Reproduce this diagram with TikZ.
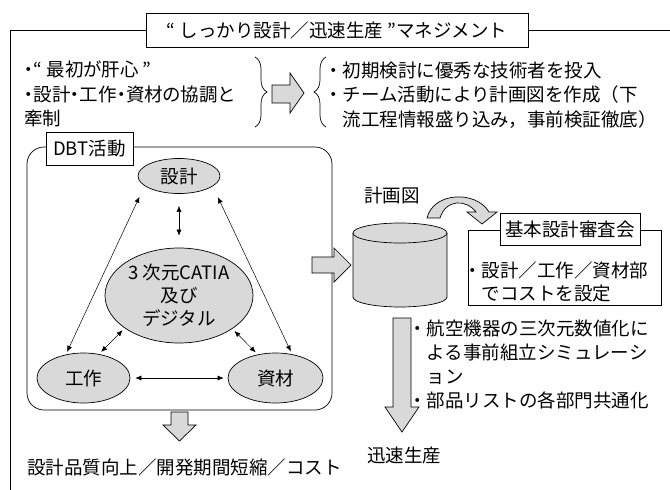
\documentclass[tikz,border=0pt]{standalone}
\usepackage{fontspec}
\newfontfamily\jp{Noto Sans CJK JP}
\newfontfamily\jpp[RawFeature=+palt]{Noto Sans CJK JP}
\usetikzlibrary{arrows.meta, shapes.geometric, decorations.pathreplacing}

\begin{document}
\begin{tikzpicture}[x=1pt,y=-1pt, line width=0.7pt,
  every node/.style={font=\jp\fontsize{18.5}{24.5}\selectfont, inner sep=0pt},
  blk/.style={draw, fill=black!15},
  oval/.style={ellipse, draw, fill=black!15},
  lbl/.style={draw, fill=white},
  txt/.style={align=left, anchor=west},
  dbl/.style={{Latex[length=6pt,width=5pt]}-{Latex[length=6pt,width=5pt]}, line width=0.5pt},
  brc/.style={decorate, decoration={brace, amplitude=12pt}}]
\useasboundingbox (0,0) rectangle (670,490);
% Title and frame
\node[lbl, minimum width=382pt, minimum height=34pt] (title) at (337,30)
  {“ しっかり設計／迅速生産 ”マネジメント};
\draw[line width=1pt] (title.west) -| (10,490);
\draw[line width=1pt] (title.east) -- (670,30);
% Top row
\node[txt, font=\jpp\fontsize{18.5}{24.5}\selectfont] (rule) at (24,94)
  {・“ 最初が肝心 ”\\・設計・工作・資材の協調と\\牽制};
\draw[brc] (255,57) -- (255,127);
\draw[blk] (272,85) -- (290,85) -- (290,73) -- (304,93) -- (290,113) -- (290,103) -- (272,103) -- cycle;
\draw[brc] (326,127) -- (326,57);
\node[txt] (plan) at (324,95) {・初期検討に優秀な技術者を投入\\・チーム活動により計画図を作成（下\\　流工程情報盛り込み，事前検証徹底）};
% DBT activity
\draw[rounded corners=17pt] (27,147) rectangle (332,410);
\node[lbl, minimum width=87pt, minimum height=33pt] (dbt) at (89.5,148.5) {DBT活動};
\node[oval, minimum width=82pt, minimum height=35pt] (sekkei) at (179,176) {設計};
\node[oval, minimum width=148pt, minimum height=95pt, align=center,
      font=\jp\fontsize{18.5}{23}\selectfont] (catia) at (179,295.5) {3 次元CATIA\\及び\\デジタル};
\node[oval, minimum width=93pt, minimum height=50pt] (kousaku) at (83.5,378) {工作};
\node[oval, minimum width=95pt, minimum height=50pt] (shizai) at (275.5,378) {資材};
\draw[dbl, shorten <=12pt, shorten >=12pt] (sekkei) -- (catia);
\draw[dbl, shorten <=3pt, shorten >=12pt] (kousaku.127) -- (sekkei.196);
\draw[dbl, shorten <=3pt, shorten >=12pt] (shizai.55) -- (sekkei.343);
\draw[dbl, shorten <=3pt, shorten >=3pt] (catia.211) -- (kousaku.57);
\draw[dbl, shorten <=3pt, shorten >=3pt] (catia.328) -- (shizai.127);
\draw[dbl, shorten <=5pt, shorten >=4pt] (kousaku) -- (shizai);
% Results
\draw[blk] (171,412) -- (188,412) -- (188,425) -- (196,425) -- (179.5,441) -- (163,425) -- (171,425) -- cycle;
\node[txt] (goal) at (27,467) {設計品質向上／開発期間短縮／コスト};
% Plan drawing
\draw[blk] (312,257) -- (334,257) -- (334,248) -- (351,265) -- (334,282) -- (334,273) -- (312,273) -- cycle;
\draw[blk] (353,233) -- (353,297) arc[start angle=180, end angle=0, x radius=47, y radius=10] -- (447,233);
\draw[blk] (400,233) ellipse[x radius=47, y radius=10];
\node (zu) at (392,195) {計画図};
\draw[blk] (427,218) .. controls (433,192) and (476,190) .. (489,212) -- (497,212) -- (482,224)
  -- (467,212) -- (476,212) .. controls (466,199) and (446,199) .. (440,218) -- cycle;
% Review
\draw (468,230) rectangle (661,305);
\node[lbl, minimum width=140pt, minimum height=32pt] (shinsa) at (570,229) {基本設計審査会};
\node[txt, font=\jp\fontsize{18.5}{23}\selectfont] (cost) at (463,281.5) {・設計／工作／資材部\\　でコストを設定};
% Production
\draw[blk] (393,318) -- (411,318) -- (411,407) -- (419,407) -- (402,432) -- (385,407) -- (393,407) -- cycle;
\node[txt, font=\jp\fontsize{18.5}{24}\selectfont] (sim) at (408,364.5)
  {・航空機器の三次元数値化に\\　よる事前組立シミュレーシ\\　ョン\\・部品リストの各部門共通化};
\node[txt] (jinsoku) at (367,455) {迅速生産};
\end{tikzpicture}
\end{document}
